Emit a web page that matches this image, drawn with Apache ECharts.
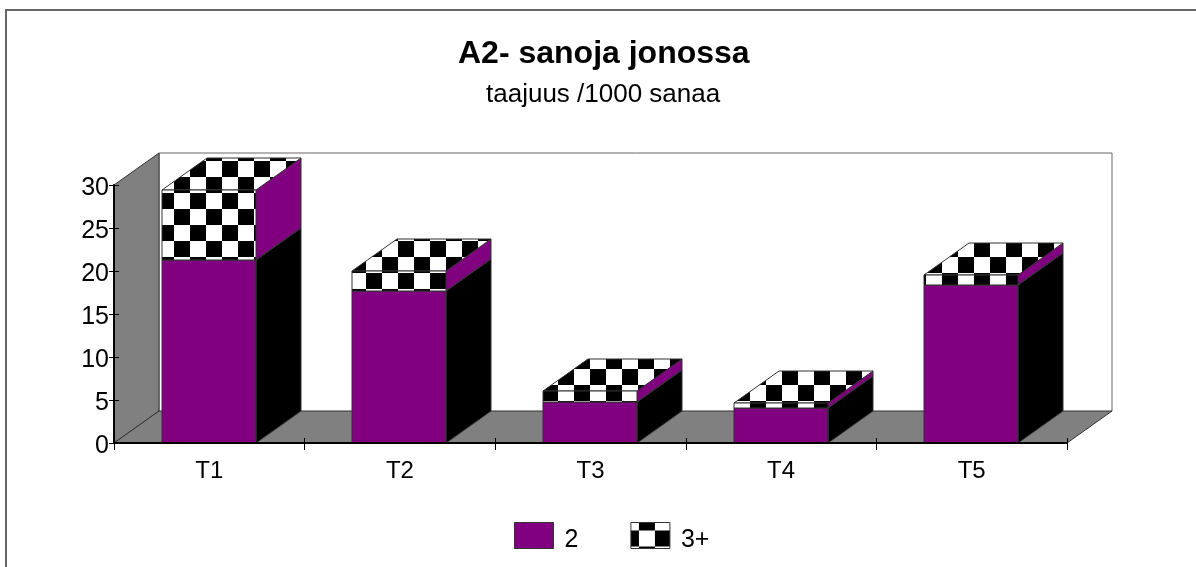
<!DOCTYPE html>
<html>
<head>
<meta charset="utf-8">
<style>
  html,body{margin:0;padding:0;background:#fff;}
  #chart{width:1196px;height:567px;}
</style>
<script src="https://cdn.jsdelivr.net/npm/echarts@6/dist/echarts.min.js"></script>
</head>
<body>
<div id="chart"></div>
<script>
var categories = ['T1','T2','T3','T4','T5'];
var values2 = [21.3, 17.7, 4.8, 4.1, 18.4];
var values3 = [8.1, 2.3, 1.25, 0.55, 1.1];
var yTicks = [0,5,10,15,20,25,30];

var FONT = '"Liberation Sans", Arial, sans-serif';
var PURPLE = '#800080';
var GREY = '#808080';
var DX = 45, DY = -32;      // depth of the fake 3d box
var BAR_W = 94;
var EDGE = '#333';

// checker tile, cells are lined up to the screen like in the original
function checker(ox, oy){
  var c = document.createElement('canvas');
  c.width = 32; c.height = 32;
  var g = c.getContext('2d');
  g.fillStyle = '#fff';
  g.fillRect(0,0,32,32);
  g.fillStyle = '#000';
  for(var i=-2;i<3;i++){
    for(var j=-2;j<3;j++){
      if(((i+j)%2+2)%2===1){
        g.fillRect(ox+i*16, oy+j*16, 16, 16);
      }
    }
  }
  return c;
}
var checkFill = {image: checker(14, 1), repeat: 'repeat'};

function poly(points, fill){
  return {type:'polygon', shape:{points:points}, style:{fill:fill, stroke:EDGE, lineWidth:1}};
}

// one box segment: side, top, front
function boxItem(faceFill, sideFill){
  return function(params, api){
    var cat = api.value(0);
    var p0 = api.coord([cat, api.value(1)]);
    var p1 = api.coord([cat, api.value(2)]);
    var l = Math.floor(p0[0]-BAR_W/2), r = l+BAR_W;
    var b = Math.round(p0[1]), t = Math.round(p1[1]);
    return {type:'group', children:[
      poly([[r,b],[r+DX,b+DY],[r+DX,t+DY],[r,t]], sideFill),
      poly([[l,t],[r,t],[r+DX,t+DY],[l+DX,t+DY]], faceFill),
      poly([[l,b],[r,b],[r,t],[l,t]], faceFill)
    ]};
  };
}

function wallsItem(params, api){
  var cs = params.coordSys;
  var x0 = cs.x, x1 = cs.x+cs.width, y0 = cs.y, y1 = cs.y+cs.height;
  return {type:'group', children:[
    {type:'polyline', shape:{points:[[x0+DX,y1+DY],[x0+DX,y0+DY],[x1+DX,y0+DY],[x1+DX,y1+DY]]}, style:{fill:null, stroke:'#666', lineWidth:1}},
    poly([[x0,y1],[x0+DX,y1+DY],[x0+DX,y0+DY],[x0,y0]], GREY),
    poly([[x0,y1],[x0+DX,y1+DY],[x1+DX,y1+DY],[x1,y1]], GREY)
  ]};
}

var data2 = categories.map(function(c,i){ return [i, 0, values2[i]]; });
var data3 = categories.map(function(c,i){ return [i, values2[i], values2[i]+values3[i]]; });

var chart = echarts.init(document.getElementById('chart'), null, {renderer:'canvas'});
var option = {
  animation:false,
  backgroundColor:'#fff',
  title:[
    {text:'A2- sanoja jonossa', left:453, top:33, textStyle:{fontFamily:FONT,fontSize:32,fontWeight:'bold',color:'#000'}},
    {text:'taajuus /1000 sanaa', left:481, top:77, textStyle:{fontFamily:FONT,fontSize:26,fontWeight:'normal',color:'#000'}}
  ],
  graphic:[
    {type:'polyline', z:0, shape:{points:[[6,567],[6,10],[1196,10]]}, style:{fill:null,stroke:'#666',lineWidth:2}}
  ],
  legend:{
    left:509, top:517, itemWidth:39, itemHeight:26, itemGap:52, icon:'rect',
    formatter:function(name){ return '{a|'+name+'}'; },
    textStyle:{fontFamily:FONT,fontSize:25,color:'#000',rich:{a:{fontFamily:FONT,fontSize:25,color:'#000',padding:[10,0,0,6]}}},
    data:[
      {name:'2', itemStyle:{color:PURPLE,borderColor:EDGE,borderWidth:1}},
      {name:'3+', itemStyle:{color:{image:checker(8,8),repeat:'repeat'},borderColor:EDGE,borderWidth:1}}
    ]
  },
  grid:{left:114, right:129, top:185, bottom:124, containLabel:false},
  xAxis:[
    {type:'category', data:categories, axisLine:{lineStyle:{color:'#000',width:2}}, axisTick:{show:true,length:7,lineStyle:{color:'#000'}}, axisLabel:{fontFamily:FONT,fontSize:24,color:'#000',margin:16}, splitLine:{show:false}, z:5},
    {type:'category', data:categories, position:'bottom', axisLine:{show:false}, axisTick:{show:true,inside:true,length:5,lineStyle:{color:'#000'}}, axisLabel:{show:false}, splitLine:{show:false}, z:5}
  ],
  yAxis:[
    {type:'value', min:0, max:30, interval:5, axisLine:{show:true,lineStyle:{color:'#000',width:2}}, axisTick:{show:true,length:5,lineStyle:{color:'#000'}},
      axisLabel:{fontFamily:FONT,fontSize:25,color:'#000',margin:5,formatter:function(v){ return '{a|'+v+'}'; },rich:{a:{fontFamily:FONT,fontSize:25,color:'#000',padding:[6,0,0,0]}}}, splitLine:{show:false}, z:5},
    {type:'value', min:0, max:30, interval:5, position:'left', axisLine:{show:false}, axisTick:{show:true,inside:true,length:5,lineStyle:{color:'#000'}}, axisLabel:{show:false}, splitLine:{show:false}, z:5}
  ],
  series:[
    {name:'walls', type:'custom', renderItem:wallsItem, data:[[0,0,0]], z:1, silent:true, encode:{x:0,y:1}, clip:false},
    {name:'2', type:'custom', renderItem:boxItem(PURPLE,'#000'), data:data2, z:2, itemStyle:{color:PURPLE}, encode:{x:0,y:[1,2]}, clip:false},
    {name:'3+', type:'custom', renderItem:boxItem(checkFill,PURPLE), data:data3, z:3, itemStyle:{color:checkFill}, encode:{x:0,y:[1,2]}, clip:false}
  ]
};
chart.setOption(option);
</script>
</body>
</html>
